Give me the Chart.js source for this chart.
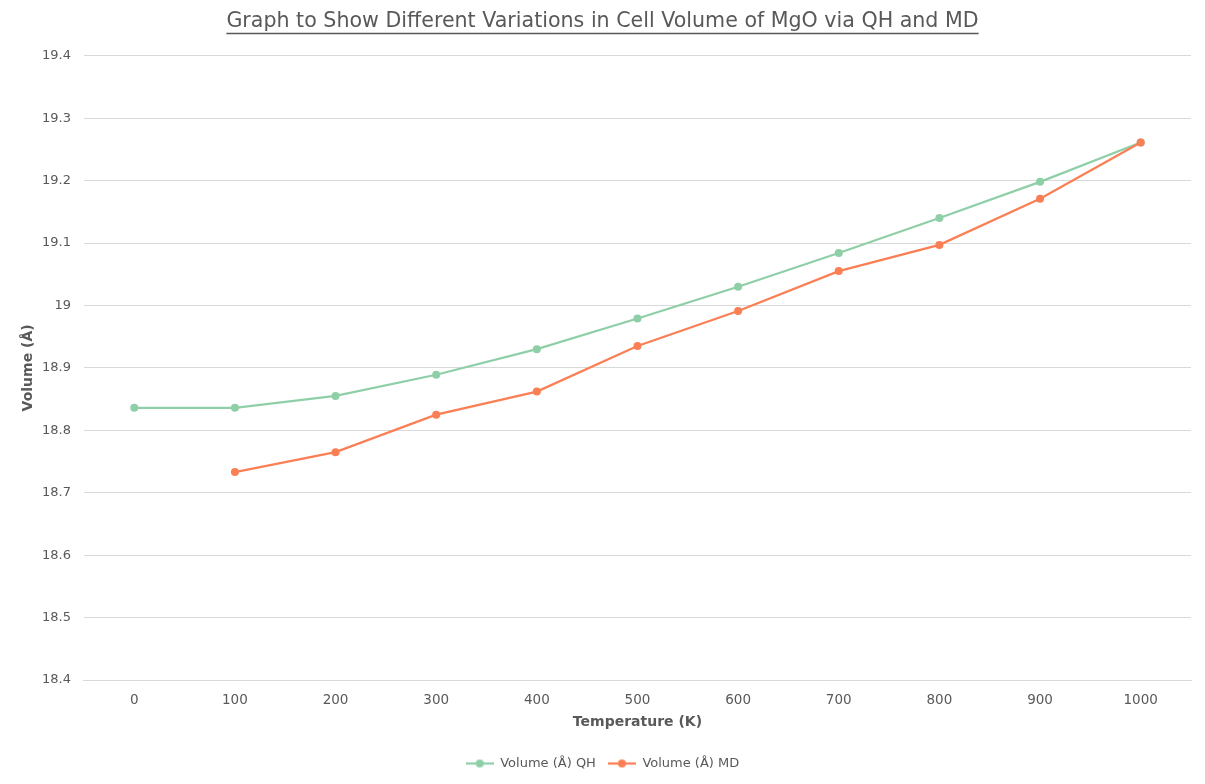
<!DOCTYPE html>
<html>
<head>
<meta charset="utf-8">
<script src="https://cdn.jsdelivr.net/npm/chart.js@4"></script>
<style>
  html, body { margin: 0; padding: 0; background: #fff; }
  #wrap { width: 1205px; height: 784px; }
</style>
</head>
<body>
<div id="wrap"><canvas id="volChart" width="1205" height="784"></canvas></div>
<script>
// Data
const temperatures = ['0', '100', '200', '300', '400', '500', '600', '700', '800', '900', '1000'];
const volumeQH = [18.836, 18.836, 18.855, 18.889, 18.930, 18.979, 19.030, 19.084, 19.140, 19.198, 19.261];
const volumeMD = [null, 18.733, 18.765, 18.825, 18.862, 18.935, 18.991, 19.055, 19.097, 19.171, 19.261];

const greenLine = '#8fcfa8';
const orangeLine = '#fa7f55';
const textGrey = '#595959';
const titleSize = 20.6;

Chart.defaults.font.family = "'DejaVu Sans', Verdana, sans-serif";
Chart.defaults.color = textGrey;

// legend marker: short line with a dot in the middle, like Excel
function legendMarker(color) {
    const c = document.createElement('canvas');
    c.width = 28;
    c.height = 10;
    const g = c.getContext('2d');
    g.strokeStyle = color;
    g.lineWidth = 2.25;
    g.beginPath();
    g.moveTo(0, 5);
    g.lineTo(28, 5);
    g.stroke();
    g.fillStyle = color;
    g.beginPath();
    g.arc(14, 5, 4, 0, Math.PI * 2);
    g.fill();
    return c;
}

// Excel-style underlined title + y axis title placed by hand
const extras = {
    id: 'extras',
    afterDraw(chart) {
        const ctx = chart.ctx;
        const t = chart.titleBlock;
        ctx.save();
        ctx.font = titleSize + "px 'DejaVu Sans'";
        const text = chart.options.plugins.title.text;
        const w = ctx.measureText(text).width;
        const cx = (t.left + t.right) / 2;
        ctx.strokeStyle = textGrey;
        ctx.lineWidth = 1.3;
        ctx.beginPath();
        ctx.moveTo(cx - w / 2, 33.5);
        ctx.lineTo(cx + w / 2, 33.5);
        ctx.stroke();

        const area = chart.chartArea;
        ctx.translate(28, (area.top + area.bottom) / 2);
        ctx.rotate(-Math.PI / 2);
        ctx.font = "bold 14px 'DejaVu Sans'";
        ctx.fillStyle = textGrey;
        ctx.textAlign = 'center';
        ctx.textBaseline = 'middle';
        ctx.fillText('Volume (Å)', 0, 0);
        ctx.restore();
    }
};

new Chart(document.getElementById('volChart'), {
    type: 'line',
    data: {
        labels: temperatures,
        datasets: [{
            label: 'Volume (Å) QH',
            data: volumeQH,
            borderColor: greenLine,
            backgroundColor: greenLine,
            borderWidth: 2.25,
            pointRadius: 4,
            pointBorderWidth: 0,
            tension: 0,
            order: 2
        }, {
            label: 'Volume (Å) MD',
            data: volumeMD,
            borderColor: orangeLine,
            backgroundColor: orangeLine,
            borderWidth: 2.25,
            pointRadius: 4,
            pointBorderWidth: 0,
            tension: 0,
            order: 1
        }]
    },
    options: {
        responsive: false,
        animation: false,
        layout: {
            padding: { left: 14, right: 14, top: 4, bottom: 4 }
        },
        plugins: {
            title: {
                display: true,
                text: 'Graph to Show Different Variations in Cell Volume of MgO via QH and MD',
                color: textGrey,
                font: { size: titleSize, weight: 'normal' },
                padding: { top: 5, bottom: 22 }
            },
            legend: {
                position: 'bottom',
                labels: {
                    font: { size: 13 },
                    padding: 12,
                    usePointStyle: true,
                    pointStyleWidth: 28,
                    generateLabels(chart) {
                        return chart.data.datasets.map((ds, i) => ({
                            text: ds.label,
                            fontColor: textGrey,
                            fillStyle: ds.borderColor,
                            strokeStyle: ds.borderColor,
                            pointStyle: legendMarker(ds.borderColor),
                            lineWidth: 0,
                            datasetIndex: i
                        }));
                    }
                }
            },
            tooltip: { enabled: false }
        },
        scales: {
            x: {
                offset: true,
                grid: { display: false },
                border: { color: '#d9d9d9' },
                ticks: { color: textGrey, font: { size: 13.5 }, padding: 4 },
                title: {
                    display: true,
                    text: 'Temperature (K)',
                    color: textGrey,
                    font: { size: 14, weight: 'bold' },
                    padding: { top: 2, bottom: 14 }
                }
            },
            y: {
                min: 18.4,
                max: 19.4,
                grid: { color: '#d9d9d9', drawTicks: false },
                border: { display: false },
                afterFit(scale) {
                    scale.width += 15;
                },
                ticks: {
                    stepSize: 0.1,
                    color: textGrey,
                    font: { size: 13 },
                    padding: 13,
                    callback: v => parseFloat(v.toFixed(1)).toString()
                }
            }
        }
    },
    plugins: [extras]
});
</script>
</body>
</html>
